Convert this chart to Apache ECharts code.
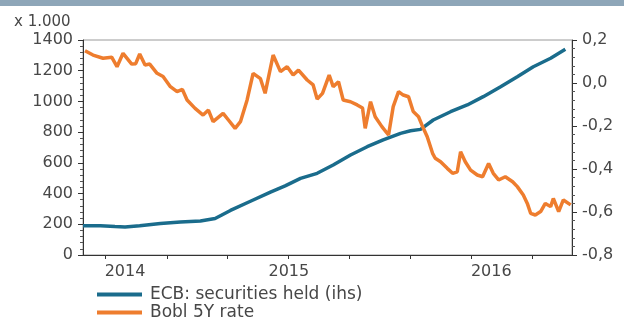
<!DOCTYPE html>
<html>
<head>
<meta charset="utf-8">
<script src="https://cdn.jsdelivr.net/npm/echarts@6/dist/echarts.min.js"></script>
<style>
  html, body { margin: 0; padding: 0; background: #fff; }
  #chart { width: 624px; height: 336px; }
</style>
</head>
<body>
<div id="chart"></div>
<script>
// ECB securities held for monetary policy purposes (EUR bn, left axis)
const ecbDates = ['2014-08-28','2014-09-23','2014-10-15','2014-10-30','2014-11-21','2014-12-22',
  '2015-01-21','2015-02-20','2015-03-14','2015-04-06','2015-05-06','2015-06-05','2015-06-27',
  '2015-07-20','2015-08-14','2015-09-07','2015-10-03','2015-10-28','2015-11-21','2015-12-17',
  '2016-01-01','2016-01-16','2016-02-04','2016-03-01','2016-03-26','2016-04-19','2016-05-15',
  '2016-06-09','2016-07-03','2016-07-29','2016-08-20'];
const ecbHeld = [190,190,185,182,190,205,
  215,222,238,290,350,410,450,
  499,532,586,651,705,749,792,
  809,818,879,933,977,1031,1096,
  1161,1226,1281,1339];

// German 5-year (Bobl) yield in %, right axis
const boblDates = ['2014-08-31','2014-09-12','2014-09-27','2014-10-10','2014-10-18','2014-10-27',
  '2014-11-09','2014-11-15','2014-11-21','2014-11-29','2014-12-06','2014-12-17','2014-12-26',
  '2015-01-06','2015-01-16','2015-01-24','2015-01-31','2015-02-12','2015-02-24','2015-03-04',
  '2015-03-11','2015-03-26','2015-04-03','2015-04-13','2015-04-21','2015-05-01','2015-05-10',
  '2015-05-21','2015-05-28','2015-06-09','2015-06-20','2015-06-30','2015-07-09','2015-07-17',
  '2015-07-30','2015-08-08','2015-08-14','2015-08-22','2015-09-01','2015-09-07','2015-09-15',
  '2015-09-22','2015-10-03','2015-10-13','2015-10-21','2015-10-25','2015-11-02','2015-11-09',
  '2015-11-19','2015-11-29','2015-12-06','2015-12-14','2015-12-21','2015-12-29','2016-01-05',
  '2016-01-13','2016-01-18','2016-01-26','2016-02-03','2016-02-07','2016-02-15','2016-02-25',
  '2016-03-04','2016-03-11','2016-03-16','2016-03-23','2016-03-31','2016-04-10','2016-04-18',
  '2016-04-27','2016-05-04','2016-05-12','2016-05-22','2016-06-02','2016-06-09','2016-06-18',
  '2016-06-24','2016-06-29','2016-07-06','2016-07-14','2016-07-21','2016-07-29','2016-08-02',
  '2016-08-10','2016-08-17','2016-08-28'];
const boblRate = [0.15,0.13,0.115,0.12,0.076,0.138,
  0.088,0.09,0.135,0.084,0.088,0.045,0.03,
  -0.017,-0.04,-0.03,-0.079,-0.118,-0.149,-0.126,
  -0.18,-0.141,-0.172,-0.211,-0.18,-0.079,0.045,
  0.02,-0.048,0.13,0.053,0.076,0.037,0.06,
  0.014,-0.009,-0.075,-0.048,0.037,-0.017,0.006,
  -0.079,-0.087,-0.102,-0.116,-0.211,-0.087,-0.157,
  -0.203,-0.242,-0.11,-0.04,-0.056,-0.064,-0.133,
  -0.157,-0.195,-0.25,-0.327,-0.35,-0.366,-0.397,
  -0.42,-0.413,-0.32,-0.366,-0.405,-0.428,-0.436,
  -0.374,-0.42,-0.451,-0.436,-0.459,-0.482,-0.521,
  -0.56,-0.606,-0.614,-0.598,-0.56,-0.575,-0.537,
  -0.598,-0.544,-0.567];

// date range of the horizontal axis, quarterly tick dates and year labels
const axisStart = '2014-08-28';
const axisEnd = '2016-08-30';
const quarterTicks = ['2014-10-01','2015-01-01','2015-04-01','2015-07-01','2015-10-01',
  '2016-01-01','2016-04-01','2016-07-01'];
const yearLabels = ['2014','2015','2016'];

// left axis ticks (EUR bn) and right axis ticks (%)
const leftMin = 0, leftMax = 1400, leftStep = 200;
const rightMin = -0.8, rightMax = 0.2, rightStep = 0.2;

const t = s => new Date(s + 'T00:00:00Z').getTime();
const xMin = t(axisStart), xMax = t(axisEnd);

// each year label sits in the middle of the part of that year shown on the axis
const yearLabelPos = yearLabels.map(y => {
  const a = Math.max(xMin, Date.UTC(+y, 0, 1));
  const b = Math.min(xMax, Date.UTC(+y + 1, 0, 1));
  return (a + b) / 2;
});

const FONT = 'DejaVu Sans';
const TXT = '#474747';
const BLUE = '#1a6c8c';
const ORANGE = '#ee7d2e';

const chart = echarts.init(document.getElementById('chart'), null, { renderer: 'canvas' });

chart.setOption({
  animation: false,
  backgroundColor: '#fff',
  title: {
    text: 'x 1.000',
    left: 9, top: 10,
    textStyle: { fontFamily: FONT, fontSize: 15, fontWeight: 'normal', color: TXT }
  },
  graphic: [{
    type: 'rect', left: 0, top: 0,
    shape: { width: 624, height: 6 },
    style: { fill: '#8ea6b8' }, silent: true
  }],
  legend: {
    orient: 'vertical',
    left: 92, top: 281,
    itemWidth: 45, itemHeight: 4, itemGap: 1,
    icon: 'rect',
    textStyle: { fontFamily: FONT, fontSize: 17, color: TXT, padding: [0, 0, 0, 3] },
    data: ['ECB: securities held (ihs)', 'Bobl 5Y rate']
  },
  grid: {
    left: 83, right: 52, top: 40, bottom: 81,
    show: true, borderColor: '#9a9a9a', borderWidth: 1
  },
  xAxis: {
    type: 'value',
    min: xMin, max: xMax,
    splitLine: { show: false },
    axisLine: { lineStyle: { color: '#333', width: 1 } },
    axisTick: {
      show: true, inside: false, length: 4,
      customValues: quarterTicks.map(t),
      lineStyle: { color: '#333' }
    },
    axisLabel: {
      customValues: yearLabelPos,
      formatter: v => String(new Date(v).getUTCFullYear()),
      fontFamily: FONT, fontSize: 16, color: TXT, margin: 9,
      showMinLabel: true, showMaxLabel: true
    }
  },
  yAxis: [{
    type: 'value',
    min: leftMin, max: leftMax, interval: leftStep,
    position: 'left',
    splitLine: { show: false },
    axisLine: { show: true, lineStyle: { color: '#333', width: 1 } },
    axisTick: { show: true, length: 5, lineStyle: { color: '#333' } },
    minorTick: { show: true, splitNumber: 5, length: 3, lineStyle: { color: '#555' } },
    axisLabel: {
      fontFamily: FONT, fontSize: 16, color: TXT, margin: 10,
      formatter: v => String(v)
    }
  }, {
    type: 'value',
    min: rightMin, max: rightMax, interval: rightStep,
    position: 'right',
    splitLine: { show: false },
    axisLine: { show: true, lineStyle: { color: '#333', width: 1 } },
    axisTick: { show: true, length: 5, lineStyle: { color: '#333' } },
    minorTick: { show: true, splitNumber: 5, length: 3, lineStyle: { color: '#555' } },
    axisLabel: {
      fontFamily: FONT, fontSize: 16, color: TXT, margin: 10,
      formatter: v => v.toFixed(1).replace('.', ',')
    }
  }],
  series: [{
    name: 'ECB: securities held (ihs)',
    type: 'line',
    yAxisIndex: 0,
    showSymbol: false,
    symbol: 'none',
    color: BLUE,
    lineStyle: { width: 3.5, color: BLUE },
    data: ecbDates.map((d, i) => [t(d), ecbHeld[i]])
  }, {
    name: 'Bobl 5Y rate',
    type: 'line',
    yAxisIndex: 1,
    showSymbol: false,
    symbol: 'none',
    color: ORANGE,
    lineStyle: { width: 3.5, color: ORANGE },
    data: boblDates.map((d, i) => [t(d), boblRate[i]])
  }]
});
</script>
</body>
</html>
